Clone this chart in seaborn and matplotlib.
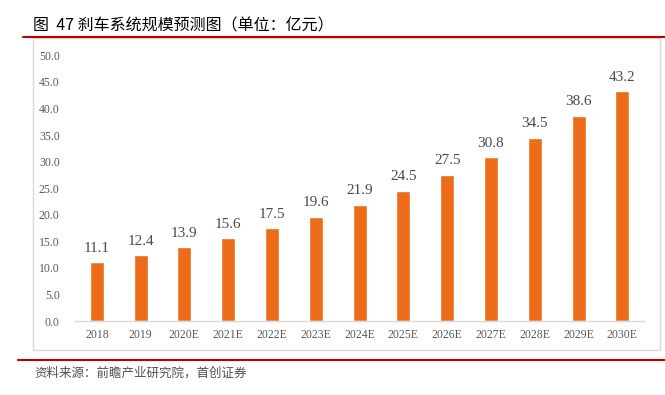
import pandas as pd
import matplotlib
matplotlib.use('Agg')
import matplotlib.pyplot as plt
import seaborn as sns
from matplotlib.patches import Rectangle
from matplotlib.lines import Line2D

# data
years = ['2018', '2019', '2020E', '2021E', '2022E', '2023E', '2024E',
         '2025E', '2026E', '2027E', '2028E', '2029E', '2030E']
values = [11.1, 12.4, 13.9, 15.6, 17.5, 19.6, 21.9, 24.5, 27.5, 30.8, 34.5, 38.6, 43.2]
yticks = [0, 5, 10, 15, 20, 25, 30, 35, 40, 45, 50]

title = '图  47 刹车系统规模预测图（单位：亿元）'
source = '资料来源：前瞻产业研究院，首创证券'

df = pd.DataFrame({'Year': years, 'Value': values})

sns.set_style('white')
plt.rcParams['font.family'] = ['Liberation Serif', 'Noto Sans CJK SC', 'DejaVu Sans']

fig = plt.figure(figsize=(6.65, 3.95), dpi=100)
ax = fig.add_axes([0.1128, 0.187, 0.856, 0.673])

sns.barplot(x='Year', y='Value', data=df, color='#EC6C1A', width=0.32,
            saturation=1, ax=ax)

# value labels
for i, v in enumerate(values):
    ax.text(i, v + 1.4, f'{v:.1f}', ha='center', va='bottom',
            fontsize=11, color='#4a4a4a', family='Liberation Serif')

ax.set_ylim(0, 50)
ax.set_xlim(-0.5, len(years) - 0.5)
ax.set_yticks(yticks)
ax.set_yticklabels([f'{t:.1f}' for t in yticks])
ax.set_xlabel('')
ax.set_ylabel('')
ax.tick_params(axis='both', length=0, labelsize=8.5, colors='#595959')
ax.tick_params(axis='y', pad=11)
ax.tick_params(axis='x', pad=6)
for s in ['top', 'right', 'left']:
    ax.spines[s].set_visible(False)
ax.spines['bottom'].set_color('#D9D9D9')
ax.spines['bottom'].set_linewidth(1)

# chart frame
fig.patches.append(Rectangle((0.0496, 0.114), 0.943, 0.79, transform=fig.transFigure,
                             fill=False, edgecolor='#D9D9D9', linewidth=1))

# red rules
fig.lines.append(Line2D([0.035, 1.0], [0.906, 0.906], transform=fig.transFigure,
                        color='#C00000', linewidth=1.5))
fig.lines.append(Line2D([0.027, 1.0], [0.0886, 0.0886], transform=fig.transFigure,
                        color='#C00000', linewidth=1.5))

fig.text(0.05, 0.912, title, ha='left', va='bottom', fontsize=11.5, color='black',
         family=['Noto Sans CJK SC', 'DejaVu Sans'])
fig.text(0.052, 0.056, source, ha='left', va='center', fontsize=9, color='#505050',
         family=['Noto Sans CJK SC', 'DejaVu Sans'], style='italic')

fig.savefig('out.png', dpi=100)
